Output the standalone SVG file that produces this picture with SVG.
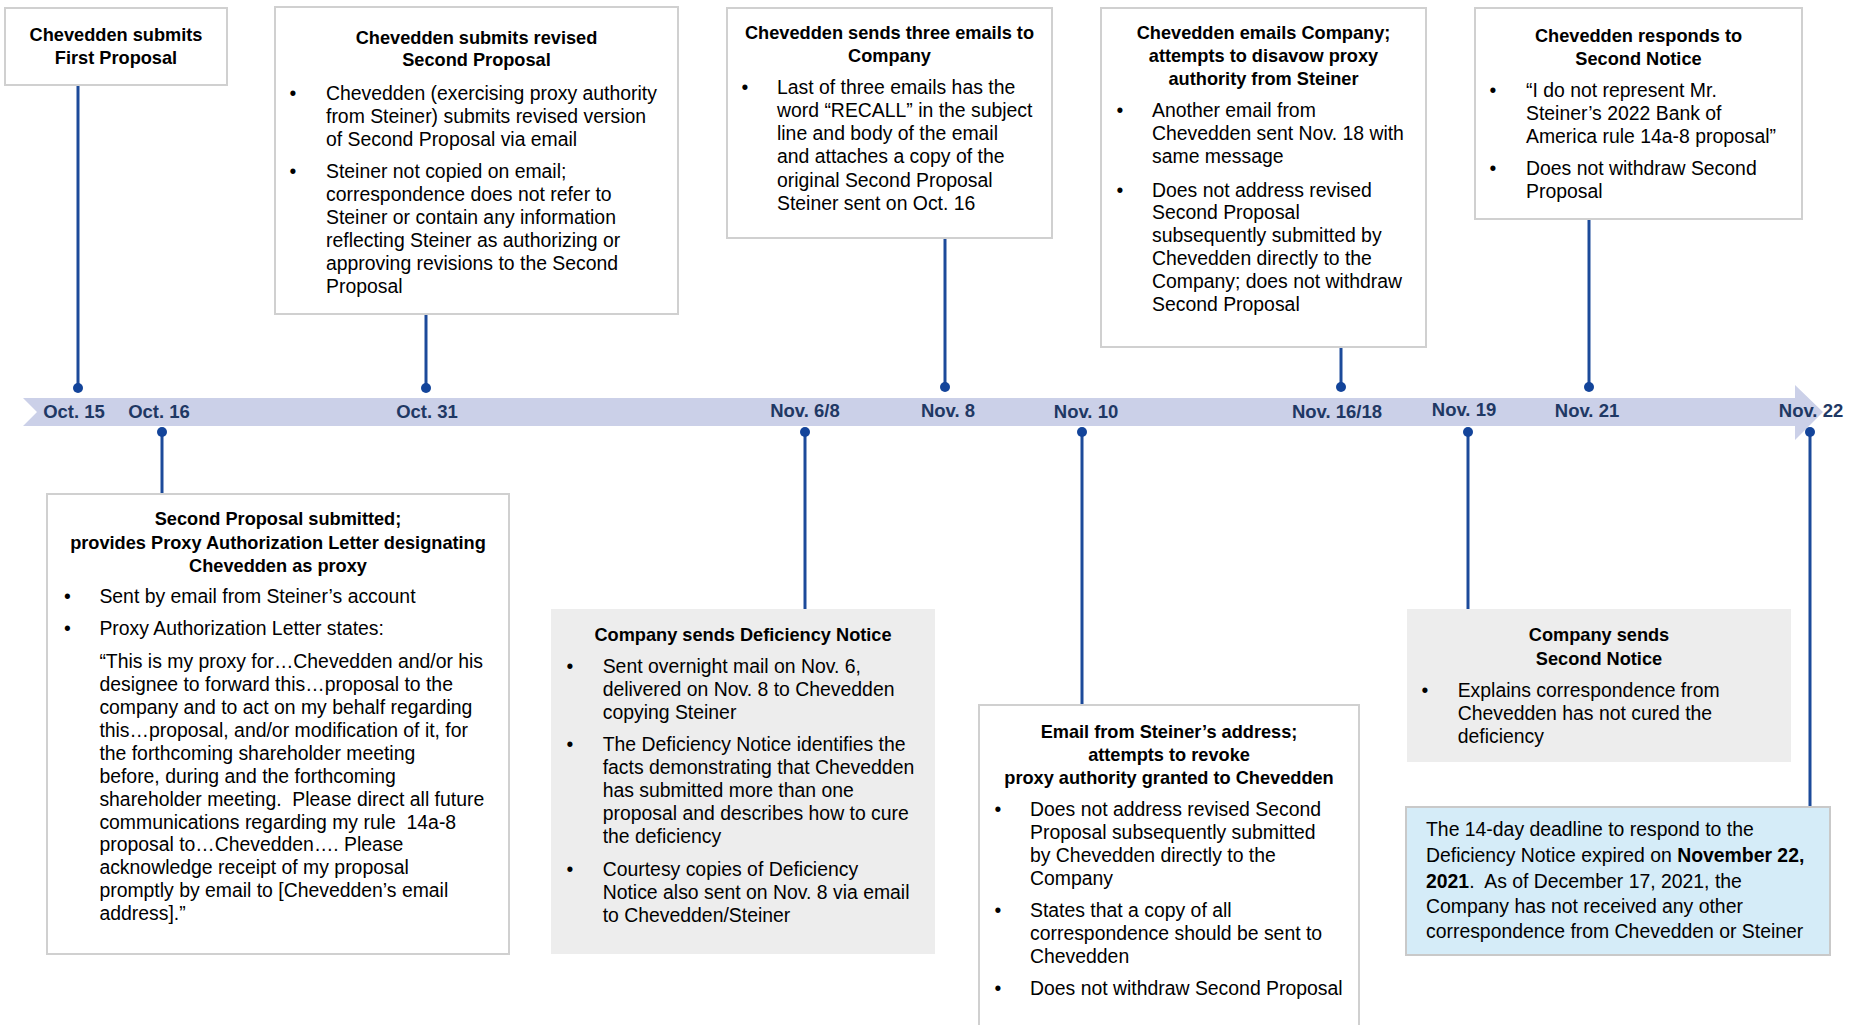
<svg xmlns="http://www.w3.org/2000/svg" width="1856" height="1025" viewBox="0 0 1856 1025">
<style>
.box{fill:#FFFFFF;stroke:#D0D0D0;stroke-width:2}
.gbox{fill:#EDEDED}
.bbox{fill:#D5ECF8;stroke:#C9C9C9;stroke-width:2}
.t{font-family:"Liberation Sans",Arial,sans-serif;font-size:18.2px;font-weight:bold;fill:#000;text-anchor:middle}
.b{font-family:"Liberation Sans",Arial,sans-serif;font-size:19.4px;fill:#000}
.bu{font-family:"Liberation Sans",Arial,sans-serif;font-size:19.4px;fill:#000;text-anchor:middle}
.d{font-family:"Liberation Sans",Arial,sans-serif;font-size:18.5px;font-weight:bold;fill:#1F3864;text-anchor:middle}
.conn{stroke:#1C4A9A;stroke-width:3;fill:none}
.dot{fill:#13449A}
.band{fill:#CBD0E8}
</style>
<rect width="1856" height="1025" fill="#FFFFFF"/>

<g id="timeline">
<polygon class="band" points="23,398 1795,398 1795,385 1823,412 1795,440 1795,426 23,426 37,412"/>
<text class="d" x="74" y="418">Oct. 15</text>
<text class="d" x="159" y="418">Oct. 16</text>
<text class="d" x="427" y="418">Oct. 31</text>
<text class="d" x="805" y="417">Nov. 6/8</text>
<text class="d" x="948" y="417">Nov. 8</text>
<text class="d" x="1086" y="418">Nov. 10</text>
<text class="d" x="1337" y="418">Nov. 16/18</text>
<text class="d" x="1464" y="416">Nov. 19</text>
<text class="d" x="1587" y="417">Nov. 21</text>
<text class="d" x="1811" y="417">Nov. 22</text>
</g>

<g id="connectors">
<line class="conn" x1="78" y1="85" x2="78" y2="388"/>
<line class="conn" x1="426" y1="314" x2="426" y2="388"/>
<line class="conn" x1="945" y1="238" x2="945" y2="387"/>
<line class="conn" x1="1341" y1="347" x2="1341" y2="387"/>
<line class="conn" x1="1589" y1="219" x2="1589" y2="387"/>
<line class="conn" x1="162" y1="432" x2="162" y2="494"/>
<line class="conn" x1="805" y1="432" x2="805" y2="610"/>
<line class="conn" x1="1082" y1="432" x2="1082" y2="705"/>
<line class="conn" x1="1468" y1="432" x2="1468" y2="610"/>
<line class="conn" x1="1810" y1="432" x2="1810" y2="807"/>
<circle class="dot" cx="78" cy="388" r="5"/>
<circle class="dot" cx="426" cy="388" r="5"/>
<circle class="dot" cx="945" cy="387" r="5"/>
<circle class="dot" cx="1341" cy="387" r="5"/>
<circle class="dot" cx="1589" cy="387" r="5"/>
<circle class="dot" cx="162" cy="432" r="5"/>
<circle class="dot" cx="805" cy="432" r="5"/>
<circle class="dot" cx="1082" cy="432" r="5"/>
<circle class="dot" cx="1468" cy="432" r="5"/>
<circle class="dot" cx="1810" cy="432" r="5"/>
</g>

<g id="n-oct15">
<rect class="box" x="5" y="8" width="222" height="77"/>
<text class="t" x="116" y="41">Chevedden submits</text>
<text class="t" x="116" y="64">First Proposal</text>
</g>

<g id="n-oct31">
<rect class="box" x="275" y="7" width="403" height="307"/>
<text class="t" x="476.5" y="44">Chevedden submits revised</text>
<text class="t" x="476.5" y="66">Second Proposal</text>
<text class="bu" x="293" y="100">•</text>
<text class="b" x="326" y="100">Chevedden (exercising proxy authority</text>
<text class="b" x="326" y="123">from Steiner) submits revised version</text>
<text class="b" x="326" y="146">of Second Proposal via email</text>
<text class="bu" x="293" y="178">•</text>
<text class="b" x="326" y="178">Steiner not copied on email;</text>
<text class="b" x="326" y="201">correspondence does not refer to</text>
<text class="b" x="326" y="224">Steiner or contain any information</text>
<text class="b" x="326" y="247">reflecting Steiner as authorizing or</text>
<text class="b" x="326" y="270">approving revisions to the Second</text>
<text class="b" x="326" y="293">Proposal</text>
</g>

<g id="n-nov8">
<rect class="box" x="727" y="8" width="325" height="230"/>
<text class="t" x="889.5" y="39">Chevedden sends three emails to</text>
<text class="t" x="889.5" y="62">Company</text>
<text class="bu" x="745" y="94">•</text>
<text class="b" x="777" y="94">Last of three emails has the</text>
<text class="b" x="777" y="117">word “RECALL” in the subject</text>
<text class="b" x="777" y="140">line and body of the email</text>
<text class="b" x="777" y="163">and attaches a copy of the</text>
<text class="b" x="777" y="187">original Second Proposal</text>
<text class="b" x="777" y="210">Steiner sent on Oct. 16</text>
</g>

<g id="n-nov1618">
<rect class="box" x="1101" y="8" width="325" height="339"/>
<text class="t" x="1263.5" y="39">Chevedden emails Company;</text>
<text class="t" x="1263.5" y="62">attempts to disavow proxy</text>
<text class="t" x="1263.5" y="85">authority from Steiner</text>
<text class="bu" x="1120" y="117">•</text>
<text class="b" x="1152" y="117">Another email from</text>
<text class="b" x="1152" y="140">Chevedden sent Nov. 18 with</text>
<text class="b" x="1152" y="163">same message</text>
<text class="bu" x="1120" y="197">•</text>
<text class="b" x="1152" y="197">Does not address revised</text>
<text class="b" x="1152" y="219">Second Proposal</text>
<text class="b" x="1152" y="242">subsequently submitted by</text>
<text class="b" x="1152" y="265">Chevedden directly to the</text>
<text class="b" x="1152" y="288">Company; does not withdraw</text>
<text class="b" x="1152" y="311">Second Proposal</text>
</g>

<g id="n-nov21">
<rect class="box" x="1475" y="8" width="327" height="211"/>
<text class="t" x="1638.5" y="42">Chevedden responds to</text>
<text class="t" x="1638.5" y="65">Second Notice</text>
<text class="bu" x="1493" y="97">•</text>
<text class="b" x="1526" y="97">“I do not represent Mr.</text>
<text class="b" x="1526" y="120">Steiner’s 2022 Bank of</text>
<text class="b" x="1526" y="143">America rule 14a-8 proposal”</text>
<text class="bu" x="1493" y="175">•</text>
<text class="b" x="1526" y="175">Does not withdraw Second</text>
<text class="b" x="1526" y="198">Proposal</text>
</g>

<g id="n-oct16">
<rect class="box" x="47" y="494" width="462" height="460"/>
<text class="t" x="278" y="525">Second Proposal submitted;</text>
<text class="t" x="278" y="548.5">provides Proxy Authorization Letter designating</text>
<text class="t" x="278" y="572">Chevedden as proxy</text>
<text class="bu" x="67.5" y="603">•</text>
<text class="b" x="99.4" y="603">Sent by email from Steiner’s account</text>
<text class="bu" x="67.5" y="635">•</text>
<text class="b" x="99.4" y="635">Proxy Authorization Letter states:</text>
<text class="b" x="99.4" y="668">“This is my proxy for…Chevedden and/or his</text>
<text class="b" x="99.4" y="691">designee to forward this…proposal to the</text>
<text class="b" x="99.4" y="714">company and to act on my behalf regarding</text>
<text class="b" x="99.4" y="737">this…proposal, and/or modification of it, for</text>
<text class="b" x="99.4" y="760">the forthcoming shareholder meeting</text>
<text class="b" x="99.4" y="782.5">before, during and the forthcoming</text>
<text class="b" x="99.4" y="805.5">shareholder meeting.&#160; Please direct all future</text>
<text class="b" x="99.4" y="828.5">communications regarding my rule&#160; 14a-8</text>
<text class="b" x="99.4" y="851">proposal to…Chevedden…. Please</text>
<text class="b" x="99.4" y="874">acknowledge receipt of my proposal</text>
<text class="b" x="99.4" y="897">promptly by email to [Chevedden’s email</text>
<text class="b" x="99.4" y="920">address].”</text>
</g>

<g id="n-nov68">
<rect class="gbox" x="551" y="609" width="384" height="345"/>
<text class="t" x="743" y="641">Company sends Deficiency Notice</text>
<text class="bu" x="570" y="673">•</text>
<text class="b" x="602.7" y="673">Sent overnight mail on Nov. 6,</text>
<text class="b" x="602.7" y="696">delivered on Nov. 8 to Chevedden</text>
<text class="b" x="602.7" y="719">copying Steiner</text>
<text class="bu" x="570" y="751">•</text>
<text class="b" x="602.7" y="751">The Deficiency Notice identifies the</text>
<text class="b" x="602.7" y="774">facts demonstrating that Chevedden</text>
<text class="b" x="602.7" y="797">has submitted more than one</text>
<text class="b" x="602.7" y="820">proposal and describes how to cure</text>
<text class="b" x="602.7" y="843">the deficiency</text>
<text class="bu" x="570" y="875.5">•</text>
<text class="b" x="602.7" y="875.5">Courtesy copies of Deficiency</text>
<text class="b" x="602.7" y="898.5">Notice also sent on Nov. 8 via email</text>
<text class="b" x="602.7" y="921.5">to Chevedden/Steiner</text>
</g>

<g id="n-nov10">
<rect class="box" x="979" y="705" width="380" height="330"/>
<text class="t" x="1169" y="737.5">Email from Steiner’s address;</text>
<text class="t" x="1169" y="760.5">attempts to revoke</text>
<text class="t" x="1169" y="784">proxy authority granted to Chevedden</text>
<text class="bu" x="998" y="816">•</text>
<text class="b" x="1030" y="816">Does not address revised Second</text>
<text class="b" x="1030" y="839">Proposal subsequently submitted</text>
<text class="b" x="1030" y="862">by Chevedden directly to the</text>
<text class="b" x="1030" y="884.5">Company</text>
<text class="bu" x="998" y="916.5">•</text>
<text class="b" x="1030" y="916.5">States that a copy of all</text>
<text class="b" x="1030" y="940">correspondence should be sent to</text>
<text class="b" x="1030" y="962.5">Chevedden</text>
<text class="bu" x="998" y="994.5">•</text>
<text class="b" x="1030" y="994.5">Does not withdraw Second Proposal</text>
</g>

<g id="n-nov19">
<rect class="gbox" x="1407" y="609" width="384" height="153"/>
<text class="t" x="1599" y="641">Company sends</text>
<text class="t" x="1599" y="665">Second Notice</text>
<text class="bu" x="1425" y="697">•</text>
<text class="b" x="1457.7" y="697">Explains correspondence from</text>
<text class="b" x="1457.7" y="720">Chevedden has not cured the</text>
<text class="b" x="1457.7" y="743">deficiency</text>
</g>

<g id="n-nov22">
<rect class="bbox" x="1406" y="807" width="424" height="148"/>
<text class="b" x="1426" y="836">The 14-day deadline to respond to the</text>
<text class="b" x="1426" y="862">Deficiency Notice expired on <tspan font-weight="bold">November 22,</tspan></text>
<text class="b" x="1426" y="887.5"><tspan font-weight="bold">2021</tspan>.&#160; As of December 17, 2021, the</text>
<text class="b" x="1426" y="913">Company has not received any other</text>
<text class="b" x="1426" y="938">correspondence from Chevedden or Steiner</text>
</g>
</svg>
